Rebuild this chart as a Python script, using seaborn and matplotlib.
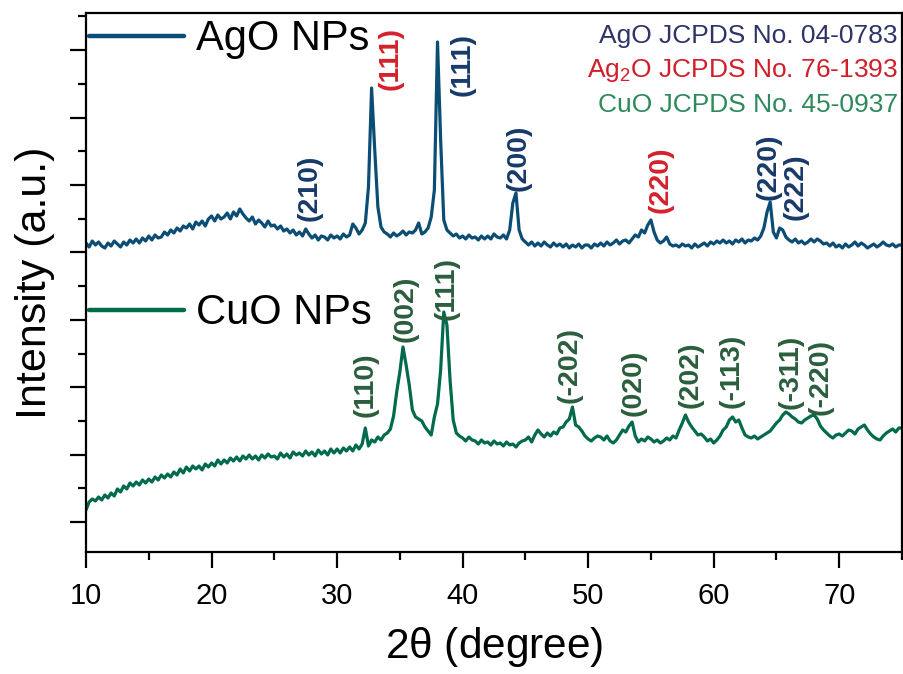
import numpy as np
import pandas as pd
import matplotlib
matplotlib.use("Agg")
import matplotlib.pyplot as plt
import seaborn as sns
from matplotlib.ticker import MultipleLocator, AutoMinorLocator

# ---------------------------------------------------------------------------
# XRD scans, 2-theta from 10 to 75 degrees in 0.25 degree steps (a.u.)
# ---------------------------------------------------------------------------
two_theta = np.linspace(10, 75, 261)

ago_counts = [
    309, 305, 311, 307,  310, 306, 304, 309,  306, 311, 308, 305,  310, 307, 312, 309,   # 10-13
    313, 309, 314, 311,  316, 312, 317, 314,  315, 320, 317, 322,  319, 324, 321, 326,   # 14-17
    324, 328, 323, 330,  327, 331, 326, 333,  336, 331, 337, 333,  335, 339, 333, 340,   # 18-21
    336, 343, 338, 334,  331, 335, 328, 332,  329, 325, 331, 326,  327, 323, 326, 321,   # 22-25
    323, 319, 322, 317,  320, 316, 323, 318,  314, 317, 312, 316,  315, 312, 317, 314,   # 26-29
    316, 313, 318, 315,  317, 328, 324, 318,  322, 329, 365, 464,  402, 345, 325, 320,   # 30-33
    318, 315, 319, 316,  318, 321, 317, 320,  319, 322, 329, 318,  320, 324, 335, 362,   # 34-37
    510, 412, 332, 322,  319, 316, 318, 314,  316, 313, 317, 314,  315, 312, 316, 313,   # 38-41
    316, 313, 318, 315,  314, 317, 313, 322,  349, 359, 322, 313,  310, 307, 310, 306,   # 42-45
    309, 306, 310, 307,  305, 309, 306, 308,  305, 308, 304, 307,  305, 308, 304, 307,   # 46-49
    307, 304, 308, 306,  309, 306, 310, 307,  309, 312, 308, 311,  312, 309, 313, 317,   # 50-53
    315, 322, 319, 327,  332, 320, 312, 309,  311, 315, 308, 306,  307, 305, 308, 306,   # 54-57
    307, 304, 308, 305,  307, 309, 306, 310,  308, 311, 309, 312,  309, 311, 308, 312,   # 58-61
    310, 313, 309, 312,  311, 314, 312, 316,  324, 340, 350, 320,  314, 324, 322, 315,   # 62-65
    312, 310, 313, 309,  311, 308, 310, 313,  310, 313, 311, 308,  309, 306, 309, 305,   # 66-69
    307, 304, 308, 305,  307, 310, 306, 309,  307, 304, 306, 308,  305, 307, 310, 307,   # 70-73
    306, 308, 305, 307,  307,                                                            # 74-75
]

cuo_counts = [
    42, 50, 53, 51,      55, 52, 57, 54,      59, 56, 63, 60,      66, 63, 69, 66,       # 10-13
    70, 67, 72, 69,      73, 70, 75, 72,      77, 74, 78, 75,      80, 77, 83, 79,       # 14-17
    85, 81, 86, 83,      86, 82, 88, 85,      89, 86, 92, 88,      92, 89, 94, 91,       # 18-21
    95, 91, 96, 93,      97, 93, 96, 92,      97, 94, 98, 95,      96, 93, 99, 95,       # 22-25
    98, 94, 100, 97,     99, 96, 101, 97,     100, 96, 102, 98,    101, 97, 103, 99,     # 26-29
    103, 99, 104, 101,   105, 101, 107, 103,  108, 124, 106, 112,  110, 115, 112, 117,   # 30-33
    119, 123, 136, 160,  180, 205, 187, 167,  142, 135, 133, 131,  125, 121, 117, 135,   # 34-37
    148, 182, 240, 227,  172, 132, 119, 116,  114, 111, 115, 112,  111, 108, 112, 109,   # 38-41
    110, 107, 111, 108,  109, 106, 110, 107,  108, 105, 109, 111,  112, 115, 110, 117,   # 42-45
    122, 118, 115, 119,  116, 120, 118, 124,  125, 130, 133, 145,  127, 125, 121, 116,   # 46-49
    113, 111, 114, 116,  115, 112, 116, 111,  109, 112, 117, 122,  120, 126, 130, 116,   # 50-53
    110, 113, 111, 115,  113, 110, 112, 109,  111, 114, 112, 116,  114, 122, 129, 137,   # 54-57
    130, 125, 121, 117,  118, 115, 111, 113,  109, 112, 116, 122,  125, 132, 135, 130,   # 58-61
    132, 124, 117, 115,  114, 116, 113, 115,  117, 119, 121, 125,  129, 132, 137, 140,   # 62-65
    138, 135, 133, 130,  129, 132, 134, 136,  137, 133, 126, 122,  119, 116, 114, 117,   # 66-69
    118, 116, 119, 122,  121, 118, 123, 125,  127, 122, 118, 115,  113, 112, 116, 119,   # 70-73
    121, 123, 120, 124,  124,                                                            # 74-75
]

# Miller indices of the indexed reflections and the 2-theta they sit at
ago_hkl = ["(210)", "(111)", "(111)", "(200)", "(220)", "(220)", "(222)"]
ago_hkl_2theta = [27.8, 34.3, 40.0, 44.5, 55.75, 64.4, 66.5]
ago_hkl_phase = ["AgO", "Ag2O", "AgO", "AgO", "Ag2O", "AgO", "AgO"]

cuo_hkl = ["(110)", "(002)", "(111)", "(-202)", "(020)", "(202)", "(-113)", "(-311)", "(-220)"]
cuo_hkl_2theta = [32.3, 35.5, 38.7, 48.55, 53.65, 58.2, 61.4, 66.1, 68.5]

reference_cards = [
    ("AgO JCPDS No. 04-0783", "AgO"),
    (r"Ag$_2$O JCPDS No. 76-1393", "Ag2O"),
    ("CuO JCPDS No. 45-0937", "CuO"),
]

# ---------------------------------------------------------------------------
# Styling
# ---------------------------------------------------------------------------
sns.set_theme(style="ticks")
plt.rcParams["font.family"] = ["Liberation Sans", "DejaVu Sans"]
plt.rcParams["mathtext.fontset"] = "custom"
plt.rcParams["mathtext.rm"] = "Liberation Sans"
plt.rcParams["mathtext.default"] = "regular"
for key in ["text.color", "axes.labelcolor", "xtick.color", "ytick.color", "axes.edgecolor"]:
    plt.rcParams[key] = "black"

line_colors = {"AgO": "#0b4d74", "CuO": "#006a4c"}
hkl_colors = {"AgO": "#173a6a", "Ag2O": "#d3222b", "CuO": "#2a5e3c"}
card_colors = {"AgO": "#2e3466", "Ag2O": "#d01f2b", "CuO": "#2f8a5b"}

df = pd.concat([
    pd.DataFrame({"two_theta": two_theta, "intensity": ago_counts, "sample": "AgO NPs"}),
    pd.DataFrame({"two_theta": two_theta, "intensity": cuo_counts, "sample": "CuO NPs"}),
])

fig = plt.figure(figsize=(9.04, 6.74), dpi=100)
ax = fig.add_axes([86 / 904, 1 - 552 / 674, (902 - 86) / 904, (552 - 13) / 674])

sns.lineplot(data=df, x="two_theta", y="intensity", hue="sample",
             palette={"AgO NPs": line_colors["AgO"], "CuO NPs": line_colors["CuO"]},
             linewidth=2.3, legend=False, ax=ax)

ax.set_xlim(10, 75)
ax.set_ylim(0, 539)

ax.xaxis.set_major_locator(MultipleLocator(10))
ax.xaxis.set_minor_locator(MultipleLocator(5))
ax.yaxis.set_major_locator(MultipleLocator(67.4, offset=30))
ax.yaxis.set_minor_locator(AutoMinorLocator(2))
ax.tick_params(axis="both", which="major", direction="out", length=11.5, width=1.6,
               color="black", top=False, right=False)
ax.tick_params(axis="both", which="minor", direction="out", length=5.5, width=1.6,
               color="black", top=False, right=False)
ax.tick_params(axis="y", labelleft=False)
ax.tick_params(axis="x", labelsize=21, pad=10, labelcolor="black")

for side in ["left", "right", "top", "bottom"]:
    ax.spines[side].set_visible(True)
    ax.spines[side].set_linewidth(1.6)
    ax.spines[side].set_color("black")

ax.set_xlabel(r"2$\theta$ (degree)", fontsize=30.5, labelpad=11, color="black")
ax.set_ylabel("Intensity (a.u.)", fontsize=31, labelpad=11, color="black")

# Indexed reflections, written vertically above each peak
ago_label_height = [364, 493, 487, 394, 372, 385, 365]
for text, pos, phase, h in zip(ago_hkl, ago_hkl_2theta, ago_hkl_phase, ago_label_height):
    ax.text(pos, h, text, rotation=90, ha="center", va="center", fontsize=20.5,
            fontweight="bold", color=hkl_colors[phase])

cuo_label_height = [167, 243, 264, 187, 169, 177, 181, 180, 175]
for text, pos, h in zip(cuo_hkl, cuo_hkl_2theta, cuo_label_height):
    ax.text(pos, h, text, rotation=90, ha="center", va="center", fontsize=20.5,
            fontweight="bold", color=hkl_colors["CuO"])

# Reference cards, top right
for (text, phase), yb in zip(reference_cards, [0.944, 0.881, 0.816]):
    ax.text(0.995, yb, text, transform=ax.transAxes, ha="right", va="baseline",
            fontsize=19, color=card_colors[phase])

# Sample legends, one next to each trace
ago_line, cuo_line = ax.lines[0], ax.lines[1]
leg_kw = dict(frameon=False, fontsize=30, handlelength=2.28, handletextpad=0.29,
              borderpad=0, borderaxespad=0, loc="upper left", labelcolor="black")
leg1 = ax.legend(handles=[ago_line], labels=["AgO NPs"], bbox_to_anchor=(0.004, 0.988), **leg_kw)
ax.add_artist(leg1)
ax.legend(handles=[cuo_line], labels=["CuO NPs"], bbox_to_anchor=(0.004, 0.48), **leg_kw)
for leg in ax.get_legend(), leg1:
    for h in leg.get_lines():
        h.set_linewidth(3.2)

fig.savefig("out.png", dpi=100)
